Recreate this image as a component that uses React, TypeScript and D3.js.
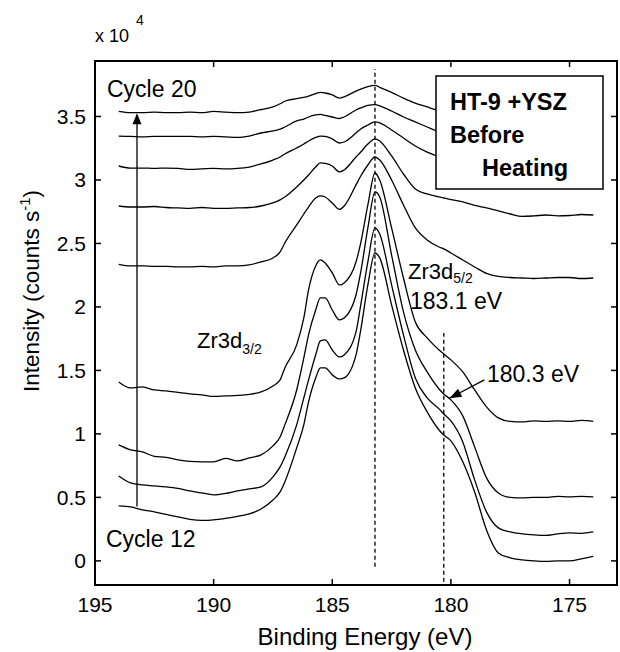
import React from 'react';
import * as d3 from 'd3';

// Binding energy grid (eV)
const ENERGY = [194, 193.5, 193, 192.5, 192, 191.5, 191, 190.5, 190, 189.5, 189, 188.5, 188, 187.5, 187.2, 187, 186.5, 186.2, 186, 185.7, 185.5, 185.3, 185, 184.7, 184.5, 184, 183.8, 183.5, 183.2, 183, 182.5, 182, 181.5, 181, 180.5, 180.3, 180, 179.5, 179, 178.5, 178, 177.5, 177, 176.5, 176, 175.5, 175, 174.5, 174];

// Intensity in units of 10^4 counts/s
const CYCLE_12 = [0.433, 0.425, 0.402, 0.386, 0.366, 0.346, 0.327, 0.319, 0.323, 0.335, 0.35, 0.37, 0.409, 0.48, 0.543, 0.622, 0.89, 1.071, 1.252, 1.441, 1.52, 1.52, 1.465, 1.433, 1.441, 1.622, 1.819, 2.173, 2.425, 2.386, 2.016, 1.661, 1.362, 1.173, 1.031, 0.992, 0.945, 0.78, 0.543, 0.244, 0.063, 0.024, 0.008, 0.0, -0.004, 0.0, 0.0, 0.016, 0.035];
const CYCLE_13 = [0.669, 0.614, 0.598, 0.591, 0.583, 0.571, 0.551, 0.535, 0.52, 0.531, 0.551, 0.567, 0.583, 0.661, 0.74, 0.819, 1.071, 1.283, 1.425, 1.622, 1.732, 1.74, 1.661, 1.606, 1.622, 1.803, 2.016, 2.354, 2.622, 2.575, 2.173, 1.78, 1.441, 1.283, 1.197, 1.157, 1.102, 0.937, 0.638, 0.386, 0.26, 0.228, 0.213, 0.205, 0.201, 0.213, 0.22, 0.217, 0.228];
const CYCLE_14 = [0.913, 0.874, 0.858, 0.823, 0.815, 0.795, 0.783, 0.78, 0.78, 0.807, 0.787, 0.811, 0.835, 0.906, 0.976, 1.071, 1.346, 1.598, 1.78, 1.976, 2.071, 2.071, 1.976, 1.898, 1.913, 2.094, 2.276, 2.622, 2.906, 2.866, 2.409, 1.961, 1.661, 1.488, 1.354, 1.315, 1.268, 1.142, 0.898, 0.654, 0.535, 0.5, 0.496, 0.5, 0.5, 0.508, 0.504, 0.508, 0.504];
const CYCLE_15 = [1.409, 1.362, 1.37, 1.346, 1.339, 1.327, 1.315, 1.307, 1.295, 1.299, 1.303, 1.311, 1.331, 1.378, 1.425, 1.52, 1.701, 1.913, 2.134, 2.323, 2.37, 2.346, 2.268, 2.173, 2.189, 2.354, 2.504, 2.803, 3.055, 3.0, 2.622, 2.228, 1.882, 1.756, 1.661, 1.63, 1.583, 1.488, 1.346, 1.213, 1.126, 1.098, 1.094, 1.102, 1.098, 1.102, 1.098, 1.106, 1.098];
const CYCLE_16 = [2.335, 2.323, 2.323, 2.319, 2.319, 2.315, 2.315, 2.319, 2.315, 2.323, 2.323, 2.331, 2.354, 2.386, 2.433, 2.504, 2.646, 2.732, 2.787, 2.858, 2.874, 2.866, 2.819, 2.768, 2.795, 2.961, 3.031, 3.118, 3.181, 3.157, 3.0, 2.803, 2.622, 2.528, 2.472, 2.457, 2.425, 2.37, 2.315, 2.264, 2.24, 2.232, 2.228, 2.224, 2.228, 2.232, 2.232, 2.224, 2.228];
const CYCLE_17 = [2.795, 2.787, 2.787, 2.791, 2.783, 2.78, 2.776, 2.783, 2.776, 2.776, 2.78, 2.783, 2.795, 2.819, 2.843, 2.866, 2.945, 3.0, 3.039, 3.102, 3.134, 3.13, 3.11, 3.063, 3.079, 3.181, 3.22, 3.283, 3.323, 3.307, 3.189, 3.047, 2.929, 2.89, 2.866, 2.858, 2.846, 2.827, 2.799, 2.78, 2.756, 2.732, 2.713, 2.717, 2.724, 2.717, 2.72, 2.728, 2.724];
const CYCLE_18 = [3.11, 3.094, 3.094, 3.091, 3.094, 3.091, 3.083, 3.087, 3.091, 3.087, 3.091, 3.102, 3.126, 3.157, 3.181, 3.205, 3.252, 3.283, 3.307, 3.335, 3.346, 3.343, 3.323, 3.291, 3.299, 3.37, 3.402, 3.433, 3.457, 3.449, 3.394, 3.331, 3.268, 3.22, 3.181, 3.165, 3.15, 3.118, 3.094, 3.071, 3.055, 3.047, 3.039, 3.039, 3.035, 3.039, 3.035, 3.039, 3.039];
const CYCLE_19 = [3.345, 3.343, 3.339, 3.343, 3.343, 3.343, 3.343, 3.339, 3.343, 3.339, 3.335, 3.346, 3.37, 3.386, 3.4, 3.417, 3.465, 3.48, 3.496, 3.512, 3.516, 3.508, 3.496, 3.484, 3.496, 3.551, 3.567, 3.587, 3.594, 3.583, 3.543, 3.496, 3.457, 3.417, 3.378, 3.362, 3.339, 3.315, 3.291, 3.276, 3.268, 3.26, 3.256, 3.256, 3.252, 3.256, 3.252, 3.256, 3.252];
const CYCLE_20 = [3.54, 3.53, 3.53, 3.535, 3.53, 3.53, 3.535, 3.53, 3.54, 3.535, 3.53, 3.535, 3.555, 3.575, 3.6, 3.62, 3.64, 3.65, 3.66, 3.68, 3.69, 3.685, 3.67, 3.645, 3.655, 3.7, 3.715, 3.735, 3.745, 3.73, 3.69, 3.645, 3.605, 3.575, 3.545, 3.535, 3.525, 3.505, 3.49, 3.47, 3.465, 3.455, 3.455, 3.455, 3.45, 3.455, 3.45, 3.455, 3.455];

const SERIES = [CYCLE_12, CYCLE_13, CYCLE_14, CYCLE_15, CYCLE_16, CYCLE_17, CYCLE_18, CYCLE_19, CYCLE_20];

const X_TICKS = [195, 190, 185, 180, 175];
const Y_TICKS = [0, 0.5, 1, 1.5, 2, 2.5, 3, 3.5];
const Y_TICK_LABELS = ['0', '0.5', '1', '1.5', '2', '2.5', '3', '3.5'];

// reference lines: energy, lower and upper intensity
const REF_ENERGY = [183.2, 180.3];
const REF_LOW = [-0.047, -0.165];
const REF_HIGH = [3.874, 1.795];

// cycle arrow (energy, from, to) and peak-shoulder arrow
const CYCLE_ARROW_E = 193.23;
const CYCLE_ARROW_FROM = 0.428;
const CYCLE_ARROW_TO = 3.525;
const SHOULDER_FROM = [178.59, 1.425];
const SHOULDER_TO = [180.06, 1.281];

const W = 620;
const H = 652;
const L = 95, R = 617, T = 61, B = 585;
const FONT = '"Liberation Sans", Arial, Helvetica, sans-serif';

export default function App() {
  const x = d3.scaleLinear().domain([195, 173]).range([L, R]);
  const y = d3.scaleLinear().domain([-0.19, 3.937]).range([B, T]);
  const line = d3
    .line<number>()
    .x((_, i) => x(ENERGY[i]))
    .y((d) => y(d))
    .curve(d3.curveMonotoneX);

  const arrowHead = (x1: number, y1: number, x2: number, y2: number, len: number, half: number) => {
    const dx = x2 - x1, dy = y2 - y1;
    const d = Math.sqrt(dx * dx + dy * dy);
    const ux = dx / d, uy = dy / d;
    const bx = x2 - ux * len, by = y2 - uy * len;
    const px = -uy * half, py = ux * half;
    return `M${x2},${y2}L${bx + px},${by + py}L${bx - px},${by - py}Z`;
  };

  const cax = x(CYCLE_ARROW_E);
  const cay1 = y(CYCLE_ARROW_FROM);
  const cay2 = y(CYCLE_ARROW_TO);
  const sx1 = x(SHOULDER_FROM[0]), sy1 = y(SHOULDER_FROM[1]);
  const sx2 = x(SHOULDER_TO[0]), sy2 = y(SHOULDER_TO[1]);
  const tick = 6;

  return (
    <svg width={W} height={H} style={{ position: 'absolute', left: 0, top: 0, background: '#fff' }} fontFamily={FONT}>
      <rect x={0} y={0} width={W} height={H} fill="#fff" />
      {SERIES.map((s, i) => (
        <path key={i} d={line(s) || ''} fill="none" stroke="#000" strokeWidth={1.3} strokeLinejoin="round" />
      ))}
      {REF_ENERGY.map((e, i) => (
        <line key={i} x1={x(e)} x2={x(e)} y1={y(REF_LOW[i])} y2={y(REF_HIGH[i])} stroke="#000" strokeWidth={1.3} strokeDasharray="4,3" />
      ))}
      {/* cycle arrow */}
      <line x1={cax} x2={cax} y1={cay1} y2={cay2 + 8} stroke="#000" strokeWidth={1.3} />
      <path d={arrowHead(cax, cay1, cax, cay2, 11, 4.5)} fill="#000" />
      {/* shoulder arrow */}
      <line x1={sx1} y1={sy1} x2={sx2} y2={sy2} stroke="#000" strokeWidth={1.3} />
      <path d={arrowHead(sx1, sy1, sx2, sy2, 12, 4.5)} fill="#000" />

      {/* legend box */}
      <rect x={436} y={76} width={167} height={113} fill="#fff" stroke="#000" strokeWidth={1.5} />
      <text x={450} y={110} fontSize={23.5} fontWeight="bold">HT-9 +YSZ</text>
      <text x={450} y={143} fontSize={23.5} fontWeight="bold">Before</text>
      <text x={482} y={176} fontSize={23.5} fontWeight="bold">Heating</text>

      {/* annotations */}
      <text x={107} y={97} fontSize={23}>Cycle 20</text>
      <text x={106} y={547} fontSize={23}>Cycle 12</text>
      <text x={197} y={348} fontSize={22}>
        Zr3d<tspan fontSize={14} dy={6}>3/2</tspan>
      </text>
      <text x={408} y={279} fontSize={22}>
        Zr3d<tspan fontSize={14} dy={4}>5/2</tspan>
      </text>
      <text x={410} y={309} fontSize={23}>183.1 eV</text>
      <text x={487} y={382} fontSize={23}>180.3 eV</text>

      {/* axes frame */}
      <rect x={L} y={T} width={R - L} height={B - T} fill="none" stroke="#000" strokeWidth={2} />
      {X_TICKS.map((t) => (
        <g key={t}>
          <line x1={x(t)} x2={x(t)} y1={B} y2={B - tick} stroke="#000" strokeWidth={1.5} />
          <line x1={x(t)} x2={x(t)} y1={T} y2={T + tick} stroke="#000" strokeWidth={1.5} />
          <text x={x(t)} y={612} fontSize={21} textAnchor="middle">{t}</text>
        </g>
      ))}
      {Y_TICKS.map((t, i) => (
        <g key={t}>
          <line x1={L} x2={L + tick} y1={y(t)} y2={y(t)} stroke="#000" strokeWidth={1.5} />
          <line x1={R} x2={R - tick} y1={y(t)} y2={y(t)} stroke="#000" strokeWidth={1.5} />
          <text x={86} y={y(t) + 7.5} fontSize={21} textAnchor="end">{Y_TICK_LABELS[i]}</text>
        </g>
      ))}
      <text x={95} y={42} fontSize={18}>x 10</text>
      <text x={136} y={25} fontSize={14}>4</text>
      <text x={365} y={645} fontSize={24} textAnchor="middle">Binding Energy (eV)</text>
      <text transform="translate(39,291) rotate(-90)" fontSize={22.5} textAnchor="middle">
        Intensity (counts s<tspan fontSize={15} dy={-9}>-1</tspan><tspan dy={9}>)</tspan>
      </text>
    </svg>
  );
}
